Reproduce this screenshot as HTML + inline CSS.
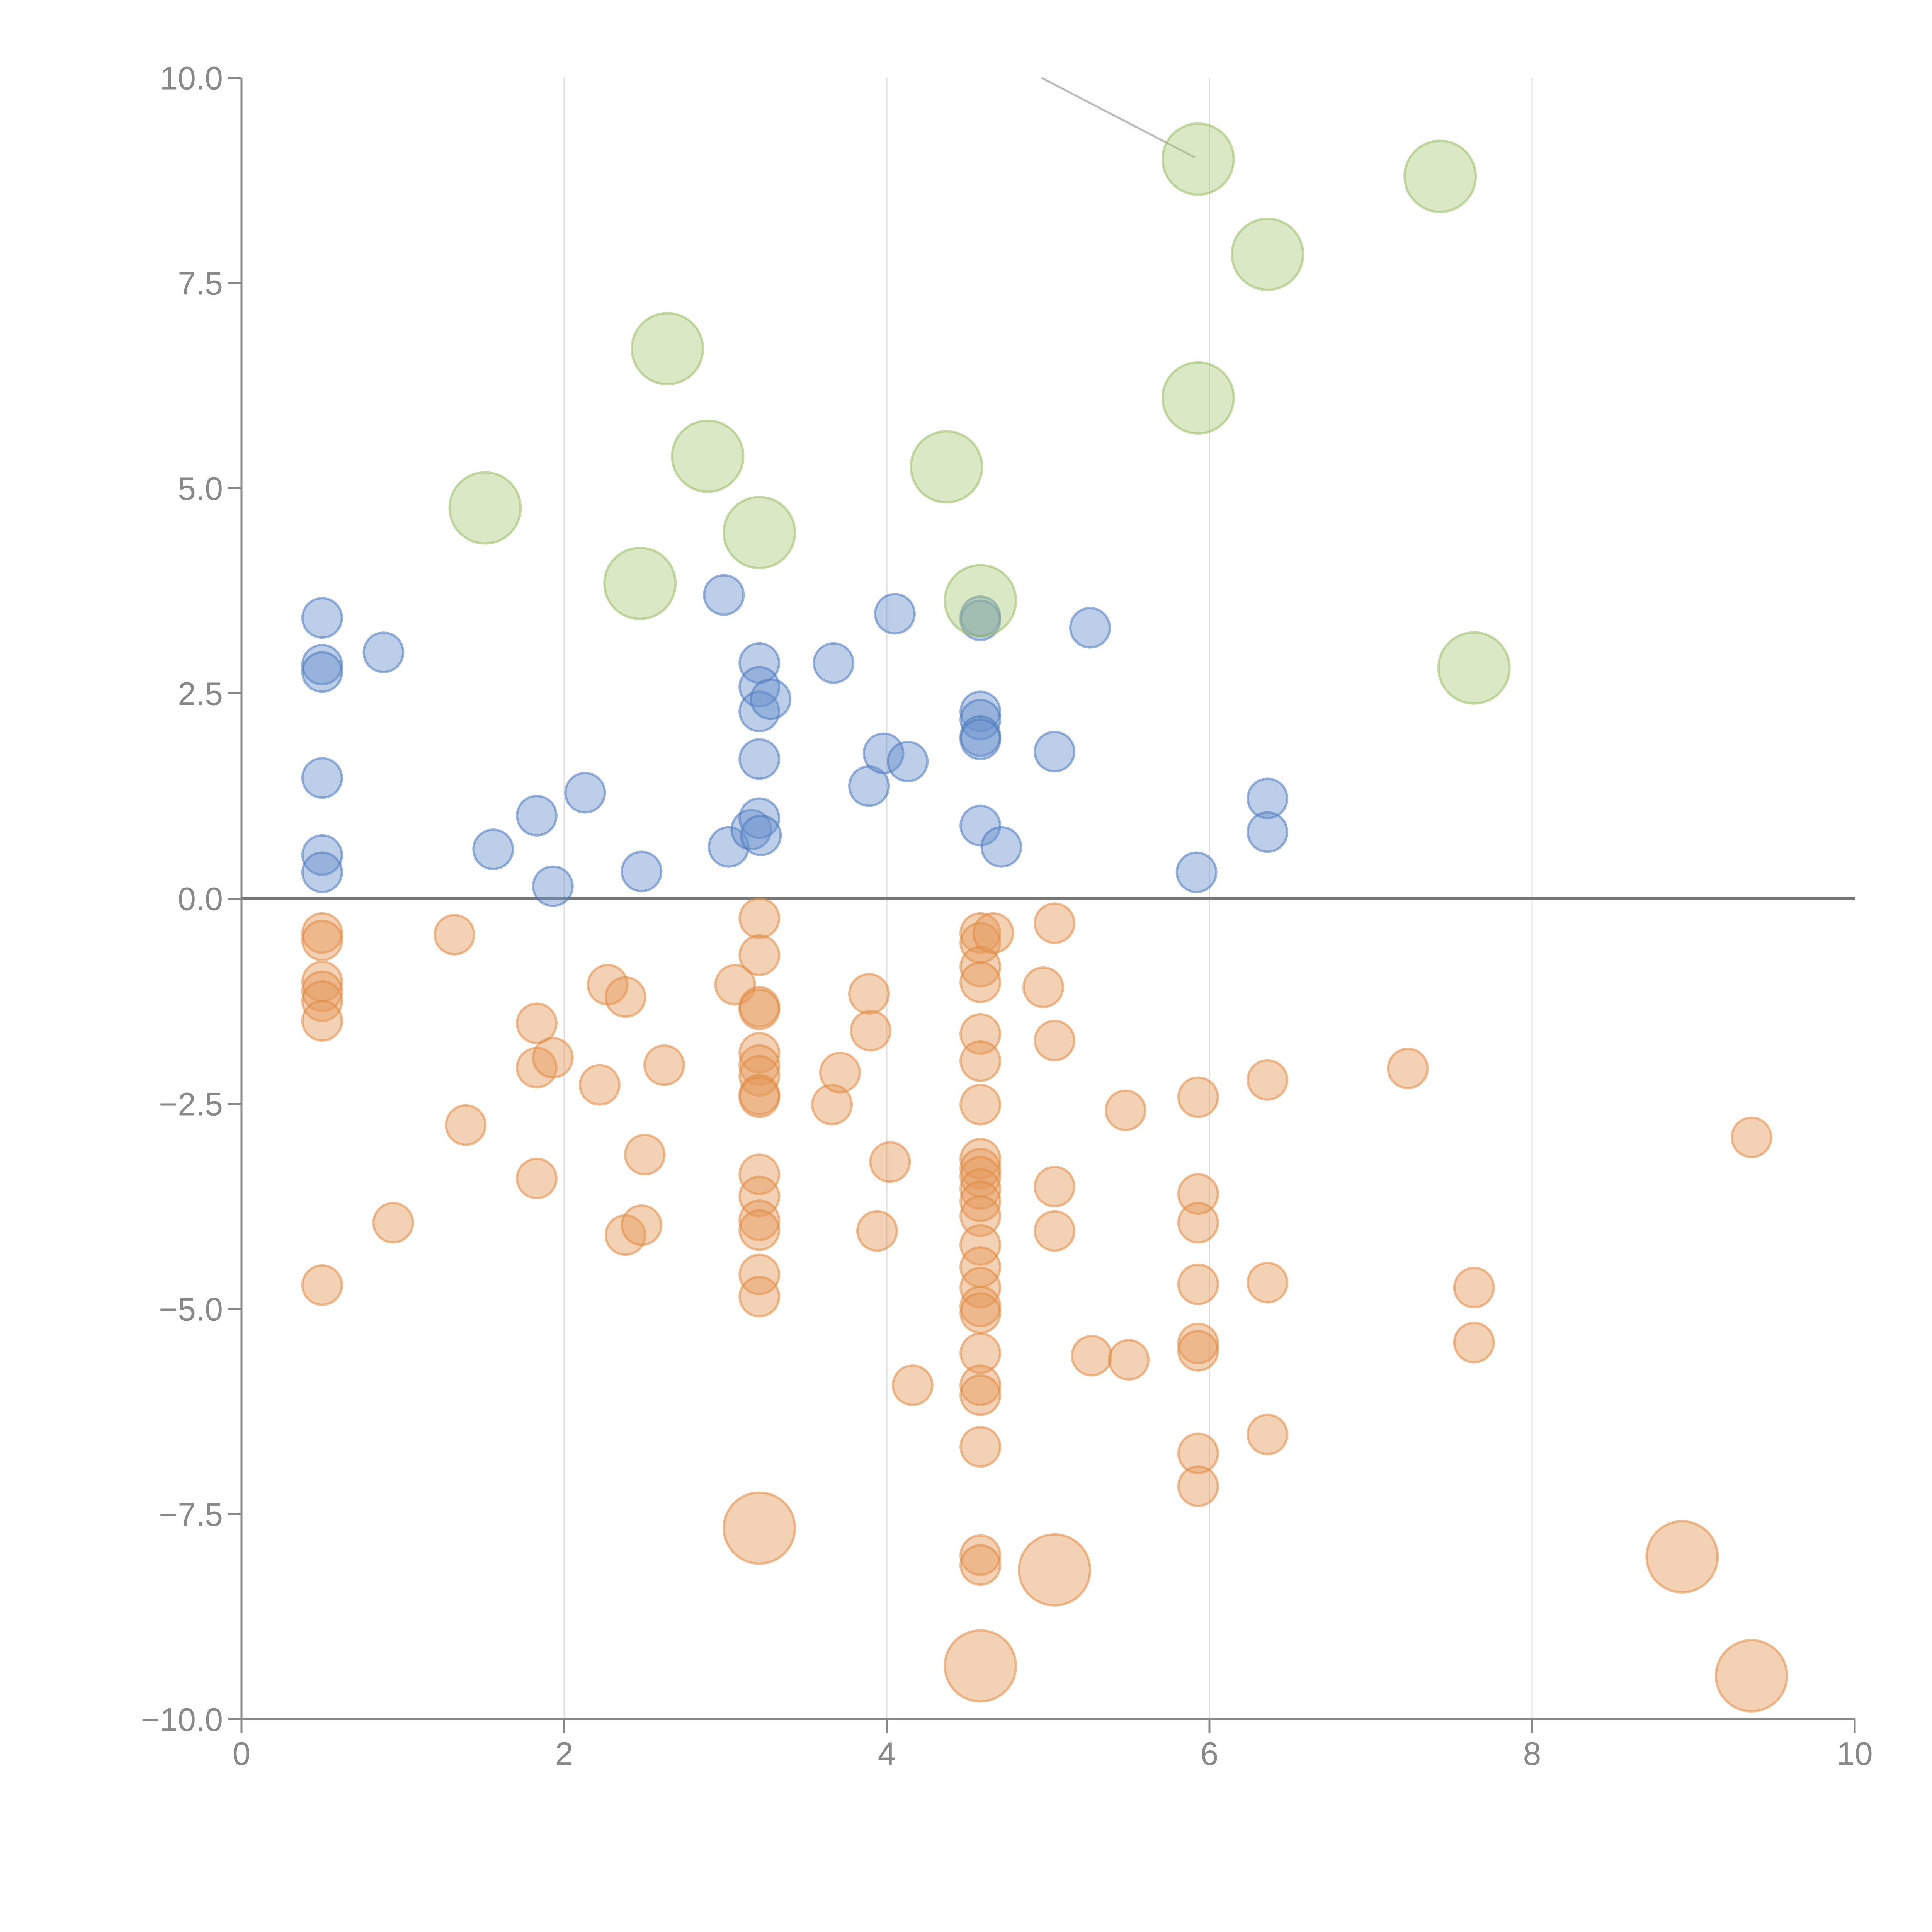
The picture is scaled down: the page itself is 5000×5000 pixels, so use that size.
<!DOCTYPE html>
<html><head><meta charset="utf-8"><style>
html,body{margin:0;padding:0;background:#fff}
svg{display:block}
text{font-family:"Liberation Sans",sans-serif;fill:#888}
</style></head><body>
<svg id="chart" width="5000" height="5000" viewBox="0 0 5000 5000" xmlns="http://www.w3.org/2000/svg">
<g id="grid"></g>
<g id="refs"></g>
<g id="marks"></g>
<g id="axes"></g>
</svg>
<script>
const xTicks=[0,2,4,6,8,10];
const yTicks=[10,7.5,5,2.5,0,-2.5,-5,-7.5,-10];
const yTickLabels=["10.0","7.5","5.0","2.5","0.0","\u22122.5","\u22125.0","\u22127.5","\u221210.0"];
const blueX=[0.50,0.50,0.50,0.88,0.50,0.50,0.50,1.56,1.83,1.93,2.13,2.48,2.99,3.02,3.16,3.21,3.21,3.21,3.28,3.21,3.21,3.22,3.67,3.89,3.98,4.05,4.13,4.58,4.58,4.58,4.58,4.58,4.58,4.58,4.71,5.04,5.26,5.92,6.36,6.36];
const blueY=[3.42,2.85,2.76,3.00,1.47,0.53,0.32,0.60,1.01,0.15,1.29,0.33,3.70,0.63,0.84,2.87,2.58,2.28,2.43,1.70,0.98,0.77,2.87,1.37,1.77,3.47,1.67,3.44,3.39,2.28,2.18,1.98,1.94,0.89,0.63,1.79,3.30,0.32,1.22,0.81];
const greenX=[1.51,2.47,2.64,2.89,3.21,4.37,4.58,5.93,5.93,6.36,7.43,7.64];
const greenY=[4.76,3.84,6.70,5.39,4.46,5.26,3.63,9.01,6.10,7.85,8.80,2.81];
const orangeX=[0.50,0.50,0.50,0.50,0.50,0.50,0.50,0.94,1.32,1.39,1.83,1.83,1.83,1.93,2.22,2.27,2.38,2.38,2.48,2.50,2.62,3.06,3.21,3.21,3.21,3.21,3.21,3.21,3.21,3.21,3.21,3.21,3.21,3.21,3.21,3.21,3.21,3.66,3.71,3.89,3.90,3.94,4.02,4.16,4.58,4.58,4.58,4.58,4.66,4.58,4.58,4.58,4.58,4.58,4.58,4.58,4.58,4.58,4.58,4.58,4.58,4.58,4.58,4.58,4.58,4.58,4.58,4.58,4.58,4.97,5.04,5.04,5.04,5.04,5.27,5.48,5.50,5.93,5.93,5.93,5.93,5.93,5.93,5.93,5.93,6.36,6.36,6.36,7.23,7.64,7.64,9.36];
const orangeY=[-0.42,-0.51,-1.01,-1.13,-1.25,-1.49,-4.71,-3.95,-0.44,-2.76,-1.52,-2.06,-3.41,-1.94,-2.27,-1.05,-1.20,-4.10,-3.98,-3.12,-2.03,-1.05,-0.24,-0.69,-1.32,-1.35,-1.88,-2.03,-2.16,-2.39,-2.42,-3.36,-3.63,-3.92,-4.04,-4.58,-4.85,-2.51,-2.12,-1.16,-1.61,-4.05,-3.21,-5.93,-0.42,-0.54,-0.83,-1.02,-0.42,-1.65,-1.98,-2.51,-3.17,-3.29,-3.39,-3.54,-3.69,-3.87,-4.22,-4.49,-4.74,-4.97,-5.05,-5.54,-5.93,-6.05,-6.68,-8.00,-8.12,-1.08,-0.30,-1.73,-3.51,-4.05,-5.57,-2.58,-5.62,-2.42,-3.60,-3.95,-4.70,-5.42,-5.51,-6.76,-7.16,-2.21,-4.68,-6.53,-2.07,-4.74,-5.41,-2.91];
const bigOrangeX=[3.21,4.58,5.04,8.93,9.36];
const bigOrangeY=[-7.67,-9.35,-8.18,-8.02,-9.47];
const calloutX=[4.96,5.91];
const calloutY=[10,9.03];

const X0=625,X1=4800,Y0=2325.5,YS=212.4;
const sx=v=>X0+(X1-X0)*v/10;
const sy=v=>Y0-v*YS;
const NS="http://www.w3.org/2000/svg";
function mk(tag,parent,attrs){const e=document.createElementNS(NS,tag);for(const k in attrs)e.setAttribute(k,attrs[k]);parent.appendChild(e);return e;}
const grid=document.getElementById('grid'),refs=document.getElementById('refs'),marks=document.getElementById('marks'),axes=document.getElementById('axes');
xTicks.slice(1,5).forEach(t=>{
  const l=mk('line',grid,{x1:sx(t),x2:sx(t),y1:sy(10),y2:sy(-10),stroke:'#dddddd','stroke-width':3});
  
  
});
const zl=mk('line',refs,{x1:sx(0),x2:sx(10),y1:sy(0),y2:sy(0),stroke:'#777','stroke-width':7});


const cl=mk('line',refs,{x1:sx(calloutX[0]),y1:sy(calloutY[0]),x2:sx(calloutX[1]),y2:sy(calloutY[1]),stroke:'#bbb','stroke-width':5});


function series(xs,ys,r,fill,stroke,name){
  xs.forEach((x,i)=>{
    const c=mk('circle',marks,{cx:sx(x),cy:sy(ys[i]),r:r,fill:fill,'fill-opacity':0.45,stroke:stroke,'stroke-opacity':0.55,'stroke-width':6});
    
    
  });
}
series(orangeX,orangeY,51,'#e59a5a','#e08a40','orange-point');
series(bigOrangeX,bigOrangeY,92,'#e59a5a','#e08a40','orange-large-point');
series(blueX,blueY,51,'#6b93cc','#4a78bc','blue-point');
series(greenX,greenY,92,'#b0cc80','#98bc64','green-point');
// axes
const ya=mk('line',axes,{x1:X0,x2:X0,y1:sy(10),y2:sy(-10)+35,stroke:'#888','stroke-width':5});


const xa=mk('line',axes,{x1:X0-35,x2:X1,y1:sy(-10),y2:sy(-10),stroke:'#888','stroke-width':5});


xTicks.forEach(t=>{
  const tk=mk('line',axes,{x1:sx(t),x2:sx(t),y1:sy(-10),y2:sy(-10)+35,stroke:'#888','stroke-width':5});
  
  
  const tx=mk('text',axes,{x:sx(t),y:sy(-10)+118,'text-anchor':'middle','font-size':84});
  tx.textContent=String(t);
  
  
});
yTicks.forEach((t,i)=>{
  const tk=mk('line',axes,{x1:X0-35,x2:X0,y1:sy(t),y2:sy(t),stroke:'#888','stroke-width':5});
  
  
  const tx=mk('text',axes,{x:X0-48,y:sy(t)+30,'text-anchor':'end','font-size':84});
  tx.textContent=yTickLabels[i];
  
  
});
</script>
</body></html>
